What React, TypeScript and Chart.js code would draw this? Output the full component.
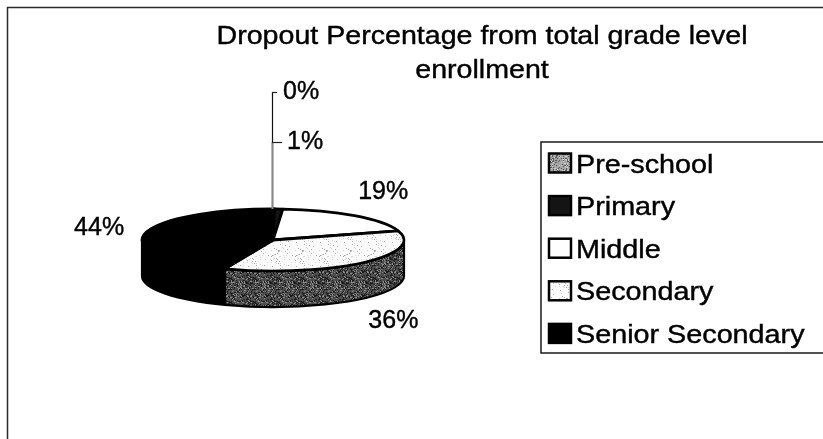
import React, { useEffect, useRef } from 'react';
import { Chart, registerables } from 'chart.js';

Chart.register(...registerables);

// ---- data ----
const categories = ['Pre-school', 'Primary', 'Middle', 'Secondary', 'Senior Secondary'];
const dropoutShare = [0.2, 1.0, 19.0, 35.8, 44.0];
const chartTitle = ['Dropout Percentage from total grade level', 'enrollment'];

// ---- layout / style constants ----
const W = 823;
const H = 439;
const FONT = '"Liberation Sans", Arial, Helvetica, sans-serif';
const TILT = 31 / 131; // vertical squash of the pie top
const DEPTH = 36 / 131; // thickness of the pie
const LABEL_DX = 46;
const LABEL_DY = 30;
const SMALL_RISE = [117, 67];
const TEXT_WEIGHT = 0.4; // extra stroke to mimic the heavier printed text

function makePattern(base: string, dots: Array<[string, number]>, seed: number) {
  const c = document.createElement('canvas');
  c.width = 24;
  c.height = 24;
  const g = c.getContext('2d')!;
  g.fillStyle = base;
  g.fillRect(0, 0, 24, 24);
  let s = seed;
  for (let y = 0; y < 24; y++) {
    for (let x = 0; x < 24; x++) {
      s = (s * 1103515245 + 12345) & 0x7fffffff;
      const r = (s % 10000) / 10000;
      let acc = 0;
      for (const [col, d] of dots) {
        acc += d;
        if (r < acc) {
          g.fillStyle = col;
          g.fillRect(x, y, 1, 1);
          break;
        }
      }
    }
  }
  return g.createPattern(c, 'repeat') as CanvasPattern;
}

function stretchText(
  ctx: CanvasRenderingContext2D,
  text: string,
  x: number,
  y: number,
  align: CanvasTextAlign,
  sx: number
) {
  ctx.save();
  ctx.translate(x, y);
  ctx.scale(sx, 1);
  ctx.textAlign = align;
  ctx.fillText(text, 0, 0);
  ctx.strokeStyle = ctx.fillStyle as string;
  ctx.lineWidth = TEXT_WEIGHT;
  ctx.strokeText(text, 0, 0);
  ctx.restore();
}

export default function App() {
  const ref = useRef<HTMLCanvasElement | null>(null);

  useEffect(() => {
    const canvas = ref.current;
    if (!canvas) return;

    const topFills: any[] = [
      makePattern('#a4a4a4', [['#5a5a5a', 0.25], ['#d0d0d0', 0.15]], 7),
      '#141414',
      '#ffffff',
      makePattern('#fafafa', [['#a8a8a8', 0.035], ['#d4d4d4', 0.05]], 11),
      '#000000',
    ];
    const sideFills: any[] = [
      makePattern('#6a6a6a', [['#303030', 0.3]], 3),
      '#000000',
      '#d0d0d0',
      makePattern('#4e4e4e', [['#1e1e1e', 0.32], ['#8e8e8e', 0.16]], 5),
      '#000000',
    ];

    const pie3d = {
      id: 'pie3d',
      beforeDraw(chart: any) {
        const ctx = chart.ctx as CanvasRenderingContext2D;
        ctx.save();
        ctx.fillStyle = '#ffffff';
        ctx.fillRect(0, 0, chart.width, chart.height);
        ctx.strokeStyle = '#2a2a2a';
        ctx.lineWidth = 1.5;
        ctx.beginPath();
        ctx.moveTo(7.5, chart.height);
        ctx.lineTo(7.5, 7.5);
        ctx.lineTo(chart.width, 7.5);
        ctx.stroke();
        ctx.restore();
      },
      beforeDatasetsDraw(chart: any) {
        const ctx = chart.ctx as CanvasRenderingContext2D;
        const meta = chart.getDatasetMeta(0);
        const arcs = meta.data;
        const fills = chart.data.datasets[0].backgroundColor;
        const p0 = arcs[0].getProps(['x', 'y', 'outerRadius'], true);
        const cx = p0.x, cy = p0.y, rx = p0.outerRadius;
        const ry = rx * TILT;
        const depth = rx * DEPTH;
        ctx.save();
        ctx.lineJoin = 'round';
        ctx.strokeStyle = '#000';
        ctx.lineWidth = 2.2;
        // side walls (front half only)
        arcs.forEach((arc: any, i: number) => {
          const { startAngle, endAngle } = arc.getProps(['startAngle', 'endAngle'], true);
          const a0 = Math.max(startAngle, 0);
          const a1 = Math.min(endAngle, Math.PI);
          if (a1 <= a0) return;
          ctx.beginPath();
          ctx.ellipse(cx, cy, rx, ry, 0, a0, a1);
          ctx.lineTo(cx + rx * Math.cos(a1), cy + ry * Math.sin(a1) + depth);
          ctx.ellipse(cx, cy + depth, rx, ry, 0, a1, a0, true);
          ctx.closePath();
          ctx.fillStyle = sideFills[i];
          ctx.fill();
          ctx.stroke();
        });
        // top face
        arcs.forEach((arc: any, i: number) => {
          const { startAngle, endAngle } = arc.getProps(['startAngle', 'endAngle'], true);
          ctx.beginPath();
          ctx.moveTo(cx, cy);
          ctx.ellipse(cx, cy, rx, ry, 0, startAngle, endAngle);
          ctx.closePath();
          ctx.fillStyle = fills[i];
          ctx.fill();
          ctx.lineWidth = 2.8;
          ctx.stroke();
        });
        ctx.restore();
        return false;
      },
      afterDraw(chart: any) {
        const ctx = chart.ctx as CanvasRenderingContext2D;
        const meta = chart.getDatasetMeta(0);
        const arcs = meta.data;
        const values: number[] = chart.data.datasets[0].data;
        const total = values.reduce((a, b) => a + b, 0);
        const p0 = arcs[0].getProps(['x', 'y', 'outerRadius'], true);
        const cx = p0.x, cy = p0.y, rx = p0.outerRadius;
        const ry = rx * TILT;
        const depth = rx * DEPTH;

        ctx.save();
        ctx.fillStyle = '#000';
        ctx.textBaseline = 'alphabetic';

        // title
        ctx.font = `26px ${FONT}`;
        stretchText(ctx, chartTitle[0], 482, 43.5, 'center', 1.1);
        stretchText(ctx, chartTitle[1], 482, 78, 'center', 1.1);

        // data labels
        ctx.font = `25px ${FONT}`;
        ctx.textBaseline = 'middle';
        let smallIdx = 0;
        arcs.forEach((arc: any, i: number) => {
          const { startAngle, endAngle } = arc.getProps(['startAngle', 'endAngle'], true);
          const mid = (startAngle + endAngle) / 2;
          const pct = (values[i] / total) * 100;
          const text = `${Math.round(pct)}%`;
          if (pct < 2) {
            const topY = cy - ry;
            const ly = topY - SMALL_RISE[smallIdx];
            const lx = cx - 1;
            ctx.beginPath();
            if (smallIdx === 0) {
              ctx.strokeStyle = '#111';
              ctx.lineWidth = 1.2;
            } else {
              ctx.strokeStyle = '#8a8a8a';
              ctx.lineWidth = 2;
            }
            ctx.moveTo(lx + 0.5, topY);
            ctx.lineTo(lx + 0.5, ly);
            ctx.stroke();
            ctx.beginPath();
            ctx.strokeStyle = '#222';
            ctx.lineWidth = 1.2;
            ctx.moveTo(lx, ly + 0.5);
            ctx.lineTo(lx + 5 + smallIdx * 5, ly + 0.5);
            ctx.stroke();
            ctx.fillStyle = '#000';
            stretchText(ctx, text, lx + 11 + smallIdx * 4, ly, 'left', 1);
            smallIdx++;
          } else {
            const c = Math.cos(mid), s = Math.sin(mid);
            const x = cx + c * (rx + LABEL_DX);
            const y = cy + s * (ry + LABEL_DY) + (s > 0 ? depth : 0);
            ctx.fillStyle = '#000';
            stretchText(ctx, text, x, y, 'center', 1);
          }
        });

        // legend
        const fills = chart.data.datasets[0].backgroundColor;
        ctx.strokeStyle = '#1a1a1a';
        ctx.lineWidth = 1.5;
        ctx.strokeRect(541, 142, 290, 211);
        ctx.font = `25px ${FONT}`;
        ctx.textBaseline = 'alphabetic';
        chart.data.labels.forEach((label: string, i: number) => {
          const base = 172.5 + i * 42.6;
          ctx.fillStyle = fills[i];
          ctx.fillRect(549, base - 19, 22, 19);
          ctx.strokeStyle = '#000';
          ctx.lineWidth = 2.5;
          ctx.strokeRect(549, base - 19, 22, 19);
          ctx.fillStyle = '#000';
          stretchText(ctx, label, 576, base, 'left', 1.15);
        });
        ctx.restore();
      },
    };

    const chart = new Chart(canvas, {
      type: 'pie',
      data: {
        labels: categories,
        datasets: [
          {
            data: dropoutShare,
            backgroundColor: topFills,
            borderWidth: 0,
          },
        ],
      },
      options: {
        responsive: false,
        animation: false,
        devicePixelRatio: 1,
        layout: { padding: { left: 142, right: W - 404, top: 109, bottom: H - 371 } },
        plugins: {
          legend: { display: false },
          title: { display: false },
          tooltip: { enabled: false },
        },
      },
      plugins: [pie3d],
    } as any);

    return () => chart.destroy();
  }, []);

  return (
    <div style={{ position: 'fixed', left: 0, top: 0, width: W, height: H, background: '#fff' }}>
      <canvas ref={ref} width={W} height={H} style={{ width: W, height: H, display: 'block' }} />
    </div>
  );
}
